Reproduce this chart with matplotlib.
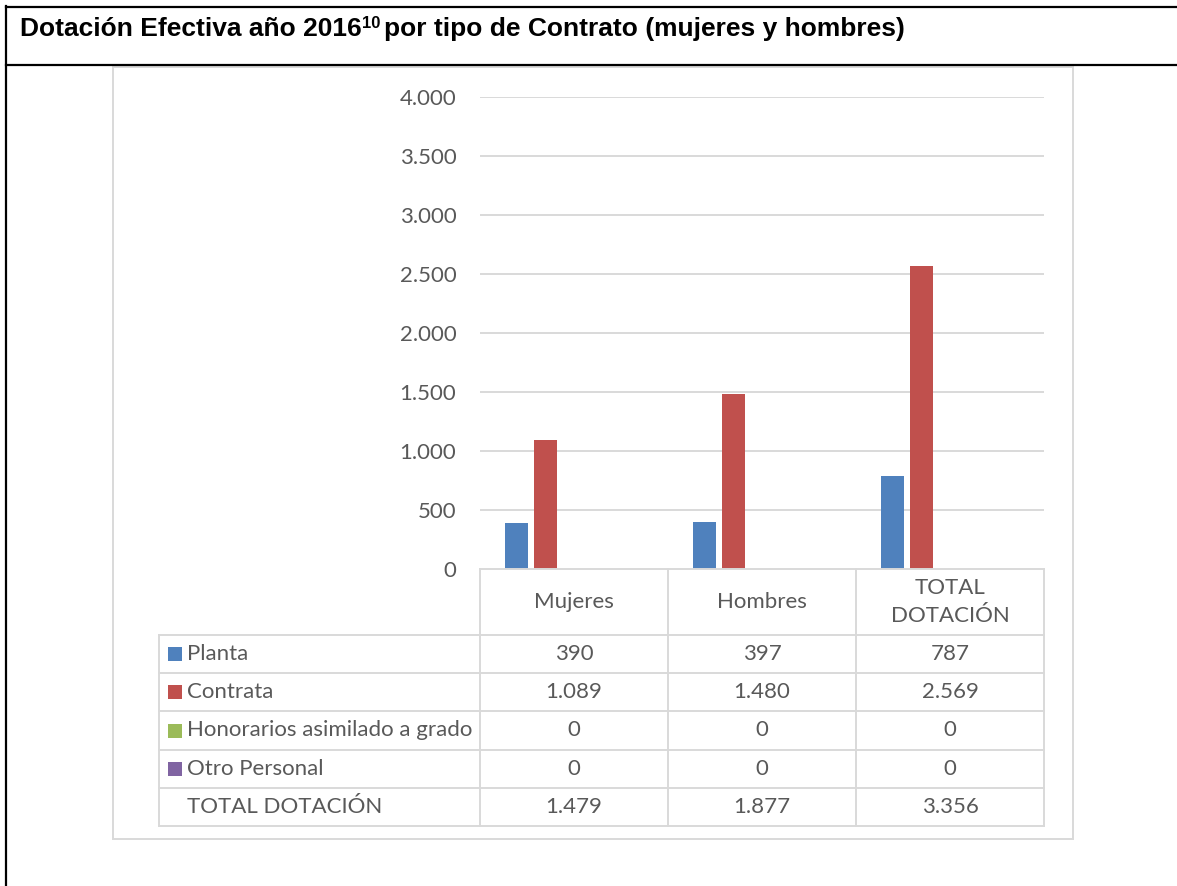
import matplotlib
matplotlib.use("Agg")
import matplotlib.pyplot as plt
from matplotlib.lines import Line2D
from matplotlib.patches import Rectangle
import numpy as np

# data
categories = ["Mujeres", "Hombres", "TOTAL\nDOTACIÓN"]
series_names = ["Planta", "Contrata", "Honorarios asimilado a grado", "Otro Personal", "TOTAL DOTACIÓN"]
planta = [390, 397, 787]
contrata = [1089, 1480, 2569]
honorarios = [0, 0, 0]
otro_personal = [0, 0, 0]
total_dotacion = [1479, 1877, 3356]
yticks = [0, 500, 1000, 1500, 2000, 2500, 3000, 3500, 4000]

# the total series has no fill in the chart (no legend key either)
colors = ["#4f81bd", "#c0504d", "#9bbb59", "#8064a2", None]
grey = "#d9d9d9"
txt = "#595959"
body_font = ["Lato", "DejaVu Sans"]
title_font = ["Liberation Sans", "DejaVu Sans"]
fs = 16

W, H = 1177, 886


def fx(x):
    return x / W


def fy(y):
    return 1 - y / H


def fmt(v):
    return f"{v:,}".replace(",", ".")


def hline(fig, y, x0, x1, color=grey, lw=1.4):
    fig.add_artist(Line2D([fx(x0), fx(x1)], [fy(y), fy(y)], transform=fig.transFigure, color=color, lw=lw))


def vline(fig, x, y0, y1, color=grey, lw=1.4):
    fig.add_artist(Line2D([fx(x), fx(x)], [fy(y0), fy(y1)], transform=fig.transFigure, color=color, lw=lw))


fig = plt.figure(figsize=(W / 100, H / 100), dpi=100)

# outer black frame of the document table
hline(fig, 7, 6, W, color="black", lw=1.6)
hline(fig, 65, 6, W, color="black", lw=1.6)
vline(fig, 6, 6, H, color="black", lw=1.6)

# title with superscript
t1 = fig.text(fx(20), fy(36), "Dotación Efectiva año 2016", family=title_font, weight="bold",
              fontsize=19, va="baseline", ha="left")
fig.canvas.draw()
r = fig.canvas.get_renderer()
bb = t1.get_window_extent(r)
t2 = fig.text(bb.x1 / W, fy(28), "10", family=title_font, weight="bold", fontsize=12,
              va="baseline", ha="left")
bb2 = t2.get_window_extent(r)
fig.text(bb2.x1 / W + 4 / W, fy(36), "por tipo de Contrato (mujeres y hombres)", family=title_font,
         weight="bold", fontsize=19, va="baseline", ha="left")

# chart area border
fig.add_artist(Rectangle((fx(113), fy(839)), (1073 - 113) / W, (839 - 67) / H,
                         transform=fig.transFigure, fill=False, edgecolor=grey, lw=1.4))

# bar axes
ax = fig.add_axes([fx(480), fy(569), (1044 - 480) / W, (569 - 97) / H])
series = [planta, contrata, honorarios, otro_personal, total_dotacion]
x = np.arange(len(categories))
bw = 0.122
step = 0.154
for i, (vals, c) in enumerate(zip(series, colors)):
    ax.bar(x + (i - 2) * step, vals, width=bw, color=c if c else "none", zorder=3)

ax.set_xlim(-0.5, len(categories) - 0.5)
ax.set_ylim(0, 4000)
ax.set_yticks(yticks)
ax.set_yticklabels([fmt(v) for v in yticks], family=body_font, fontsize=fs, color=txt)
ax.set_xticks([])
ax.tick_params(axis="y", length=0, pad=17)
for s in ax.spines.values():
    s.set_visible(False)
for v in yticks[1:]:
    ax.axhline(v, color=grey, lw=1.4, zorder=1)

# data table
col_edges = [480, 668, 856, 1044]
row_edges = [635, 673, 711, 750, 788, 826]
label_x0 = 159

hline(fig, 569, col_edges[0], col_edges[-1])
for xe in col_edges:
    vline(fig, xe, 569, row_edges[-1])
vline(fig, label_x0, row_edges[0], row_edges[-1])
for ye in row_edges:
    hline(fig, ye, label_x0, col_edges[-1])

for j, cat in enumerate(categories):
    cx = (col_edges[j] + col_edges[j + 1]) / 2
    fig.text(fx(cx), fy(602), cat, family=body_font, fontsize=fs, color=txt,
             ha="center", va="center", linespacing=1.5)

for k, (name, vals, c) in enumerate(zip(series_names, series, colors)):
    cy = (row_edges[k] + row_edges[k + 1]) / 2
    if c is not None:
        fig.add_artist(Rectangle((fx(168), fy(cy + 7)), 14 / W, 14 / H, transform=fig.transFigure,
                                 color=c, lw=0))
    fig.text(fx(187), fy(cy), name, family=body_font, fontsize=fs, color=txt, ha="left", va="center")
    for j, v in enumerate(vals):
        cx = (col_edges[j] + col_edges[j + 1]) / 2
        fig.text(fx(cx), fy(cy), fmt(v), family=body_font, fontsize=fs, color=txt,
                 ha="center", va="center")

fig.savefig("out.png", dpi=100)
